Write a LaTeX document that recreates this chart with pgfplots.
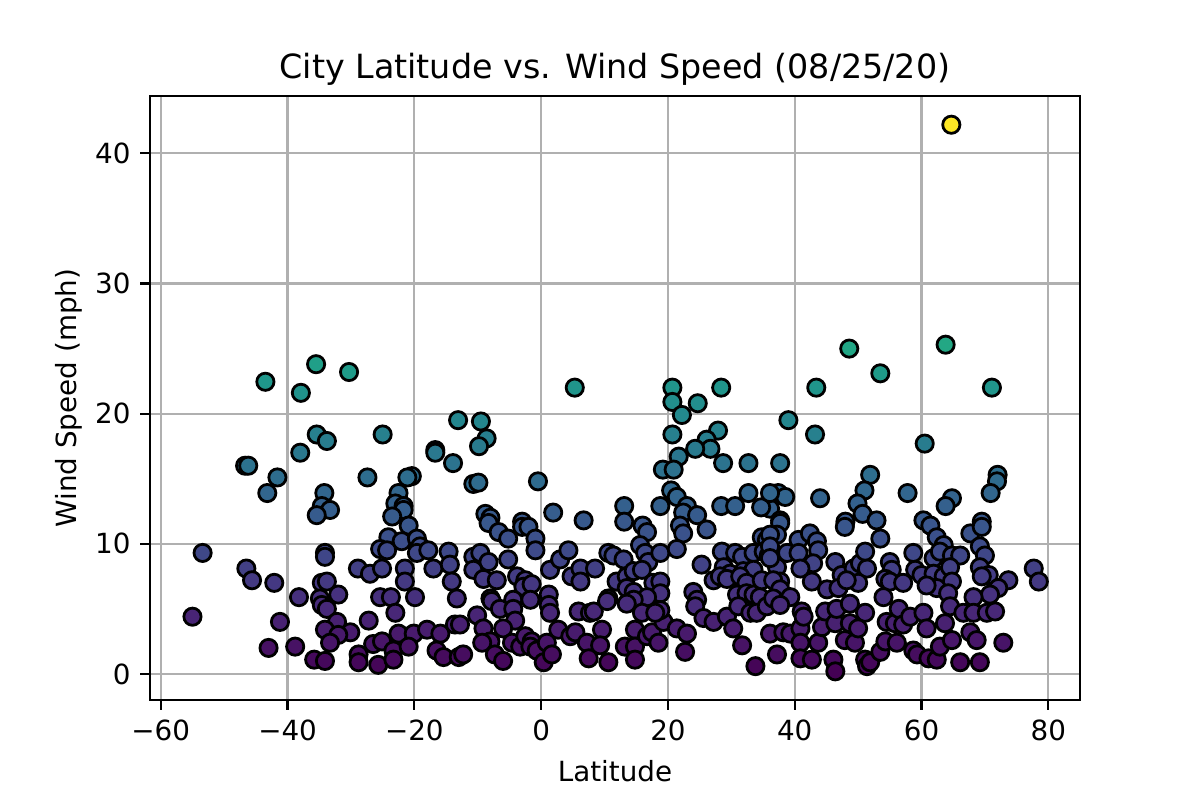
\documentclass[border=0pt]{standalone}
\usepackage{pgfplots}
\pgfplotsset{compat=1.18}
\usepackage{fontspec}
\setmainfont{DejaVu Sans}
\definecolor{gridgray}{HTML}{B0B0B0}
\begin{document}
\begin{tikzpicture}
\path[use as bounding box] (0,0) rectangle (432pt,288pt);
\begin{axis}[
  at={(54pt,36pt)}, anchor=south west,
  scale only axis, width=334.8pt, height=217.4pt,
  xmin=-61.7, xmax=85.0, ymin=-2.0, ymax=44.4,
  xtick={-60,-40,-20,0,20,40,60,80},
  xticklabels={−60,−40,−20,0,20,40,60,80},
  ytick={0,10,20,30,40},
  /pgf/number format/assume math mode=true,
  tick pos=left, tick align=outside,
  major tick length=3.5pt,
  every tick/.style={black, line width=0.8pt},
  axis line style={black, line width=0.8pt},
  grid=major,
  major grid style={gridgray, line width=0.8pt},
  tick label style={font=\fontsize{10}{12}\selectfont},
  label style={font=\fontsize{10}{12}\selectfont},
  title style={font=\fontsize{12}{14}\selectfont, at={(axis description cs:0.5,1)}, anchor=base, yshift=0.5pt},
  xlabel style={at={(axis description cs:0.5,0)}, anchor=base, yshift=-29.2pt},
  ylabel style={at={(axis description cs:0,0.5)}, anchor=base, yshift=26.3pt},
  title={City Latitude vs. Wind Speed (08/25/20)},
  xlabel={Latitude},
  ylabel={Wind Speed (mph)},
  colormap name=viridis,
  scatter/use mapped color={draw=black, fill=mapped color},
]
\addplot[scatter, only marks, scatter src=y, mark=*, mark size=3.1pt, mark options={line width=1pt}] coordinates {
(64.7,42.2)
(63.8,25.3)(48.6,25.0)(53.5,23.1)(71.1,22.0)(43.4,22.0)(28.4,22.0)(20.7,22.0)(20.7,20.9)(24.7,20.8)(22.2,19.9)(39.0,19.5)(43.2,18.4)(60.5,17.7)(37.7,16.2)(51.9,15.3)(72.0,15.3)(71.9,14.8)(70.9,13.9)(37.4,13.9)(38.5,13.6)(44.0,13.5)(51.0,14.1)(49.9,13.1)(50.7,12.3)(57.8,13.9)(64.8,13.5)(63.8,12.9)(36.1,12.7)(37.7,11.8)(60.3,11.8)(69.5,11.7)(48.0,11.7)(52.9,11.8)
(-43.5,22.45)(-35.5,23.8)(-30.3,23.2)(-37.9,21.6)(-13.1,19.5)(-35.4,18.4)(-33.8,17.9)(-25.0,18.4)(-38.0,17.0)(-16.7,17.2)(-16.7,17.0)(-13.9,16.2)(-46.7,16.0)(-46.2,16.0)(-41.6,15.1)(-43.2,13.9)(-27.4,15.1)(-20.4,15.2)(-21.1,15.1)(-22.5,13.9)(-23.0,13.1)(-21.7,12.9)(-21.7,12.6)(-34.2,13.9)(-34.6,12.9)(-33.3,12.6)(-35.4,12.2)(-23.5,12.1)
(-9.5,19.4)(-8.6,18.1)(-9.8,17.5)(-10.7,14.6)(-9.9,14.7)(5.3,22.0)(-0.5,14.8)(20.7,18.4)(27.9,18.7)(26.1,18.0)(26.7,17.3)(24.3,17.3)(21.7,16.7)(28.7,16.2)(32.7,16.2)(19.2,15.7)(20.9,15.7)(20.5,14.1)(21.4,13.6)(32.7,13.9)(18.8,12.9)(23.0,12.9)(22.4,12.4)(24.6,12.2)(28.4,12.9)(30.6,12.9)(34.7,12.8)(36.1,13.9)(13.1,12.9)(1.9,12.4)(6.7,11.8)(-8.8,12.3)(-8.0,12.0)(-3.0,11.7)
(-20.9,11.4)(-24.1,10.5)(-22.0,10.2)(-19.6,10.4)(-19.1,9.8)(-25.4,9.6)(-24.3,9.5)(-19.6,9.3)(-17.8,9.5)(-17.0,8.1)(-14.6,9.4)(-14.4,8.4)(-14.1,7.1)(-13.3,5.8)(-53.4,9.3)(-46.5,8.1)(-45.6,7.2)(-42.1,7.0)(-34.1,9.3)(-34.1,9.0)(-28.9,8.1)(-27.0,7.7)(-25.1,8.1)(-21.5,8.1)(-21.5,7.1)(-34.6,7.0)(-33.8,7.1)(-38.2,5.9)(-34.9,5.8)(-32.0,6.1)(-34.6,5.3)(-25.4,5.9)(-23.7,5.9)(-19.9,5.9)
(-55.0,4.4)(-41.2,4.0)(-43.0,2.0)(-38.8,2.1)(-33.8,5.0)(-32.2,4.0)(-34.1,3.4)(-30.1,3.2)(-32.0,3.0)(-33.3,2.4)(-35.8,1.1)(-34.1,1.0)(-27.2,4.1)(-23.0,4.7)(-28.8,1.5)(-28.8,0.9)(-25.7,0.7)(-26.5,2.3)(-25.1,2.5)(-22.5,3.1)(-20.1,3.1)(-23.3,1.8)(-23.3,1.1)(-20.9,2.1)(-18.0,3.4)(-15.9,3.1)(-16.5,1.8)(-15.4,1.3)(-13.6,3.8)(-13.0,1.3)
(-8.3,11.6)(-6.7,10.9)(-5.2,10.4)(-3.0,11.3)(-2.0,11.3)(-0.9,10.4)(-0.9,9.5)(13.1,11.7)(16.0,11.4)(16.7,10.9)(15.6,9.9)(16.4,9.3)(16.9,8.6)(18.8,9.3)(21.9,11.4)(22.4,10.8)(26.1,11.1)(21.4,9.6)(34.8,10.5)(35.6,10.3)(25.3,8.4)(28.5,9.4)(30.6,9.3)(31.7,9.0)(33.5,9.3)(35.1,9.4)(35.9,9.1)(28.8,8.2)(29.8,7.7)(31.9,7.9)(32.7,7.1)(33.5,8.0)
(-10.7,9.0)(-9.6,9.3)(-8.3,8.6)(-10.7,8.0)(-9.1,7.3)(-7.0,7.2)(-5.2,8.8)(-3.8,7.5)(-2.5,7.2)(-2.8,6.7)(-1.5,6.9)(-8.0,5.8)(-4.4,5.7)(-1.7,5.7)(1.4,8.0)(3.0,8.8)(4.3,9.5)(1.2,6.1)(4.8,7.5)(6.2,8.1)(6.2,7.1)(8.5,8.1)(10.6,9.3)(11.4,9.1)(13.0,8.8)(11.9,7.1)(13.5,7.5)(14.6,7.9)(15.9,8.0)(13.5,6.6)(14.6,6.3)(17.7,7.0)(18.8,7.1)(18.8,6.2)(16.7,5.9)(10.6,5.8)(14.6,5.7)(27.2,7.2)(28.2,7.5)(29.3,7.3)(31.4,7.5)(32.4,7.0)(30.9,6.1)(32.4,6.2)(33.5,6.1)(34.5,5.9)(34.8,7.2)(24.0,6.3)(24.6,5.7)
(-10.1,4.5)(-7.8,5.6)(-6.5,5.0)(-4.4,5.0)(-4.1,4.1)(-6.0,3.5)(-9.1,3.5)(-8.0,2.5)(-9.3,2.4)(-7.3,1.5)(-6.0,1.0)(-4.6,2.4)(-3.3,2.1)(-2.5,2.9)(-1.5,2.5)(-1.7,2.1)(-0.7,1.8)(-12.8,3.8)(-12.3,1.5)(0.4,0.9)(0.9,2.4)(1.7,1.5)(1.2,5.3)(1.4,4.7)(2.7,3.4)(4.6,2.9)(5.4,3.2)(5.9,4.8)(7.7,4.7)(8.3,4.8)(7.2,2.4)(9.6,3.4)(9.3,2.2)(7.5,1.2)(10.6,0.9)(10.4,5.6)(13.5,5.4)(14.8,3.4)(15.9,4.7)(13.2,2.1)(14.8,2.1)(14.8,1.1)(16.7,2.9)(17.5,3.2)(18.5,2.4)(19.3,4.0)(18.8,4.9)(18.0,4.7)(21.4,3.5)(23.0,3.1)(22.7,1.7)(24.3,5.2)(25.6,4.3)(27.2,4.0)(29.3,4.4)(30.3,3.5)(31.7,2.2)(31.1,5.2)(33.0,4.7)(34.0,4.7)(35.6,5.2)(36.1,3.1)(33.8,0.6)
(37.7,11.6)(37.2,10.7)(38.8,9.3)(37.2,8.2)(37.7,7.1)(40.6,10.3)(40.6,9.3)(42.4,10.8)(43.5,10.2)(43.7,9.5)(42.9,8.5)(40.9,8.1)(42.7,7.1)(45.1,6.5)(47.9,11.3)(53.5,10.4)(46.4,8.6)(47.4,7.6)(49.3,8.1)(50.3,8.5)(51.4,8.1)(51.1,9.4)(50.0,7.0)(46.9,6.6)(48.2,7.2)(55.0,8.6)(55.3,8.0)(54.3,7.3)(55.0,7.1)(57.1,7.0)(58.7,9.3)(59.0,8.0)(60.0,7.6)(54.0,5.9)(61.4,11.4)(62.4,10.5)(63.5,9.9)(61.9,8.9)(62.9,9.4)(64.8,9.1)(66.1,9.1)(61.9,7.7)(63.5,7.5)(64.5,8.2)(64.8,7.1)(62.4,6.6)(60.8,6.8)(64.2,6.2)(67.7,10.8)(69.5,11.3)(69.2,9.8)(70.0,9.1)(69.2,8.2)(70.6,7.6)(69.5,7.5)(73.7,7.2)(72.1,6.6)(70.8,6.1)(68.2,5.9)(77.7,8.1)(78.5,7.1)(36.1,10.7)(36.1,9.8)(36.1,8.9)(36.6,7.2)(37.7,6.5)(36.6,5.8)(39.3,5.9)
(37.7,5.3)(38.2,3.2)(37.2,1.5)(39.3,3.1)(41.1,4.8)(40.9,3.5)(40.9,2.4)(40.9,1.2)(42.7,1.1)(41.4,4.4)(43.7,2.4)(44.3,3.6)(44.8,4.8)(46.4,3.9)(46.6,5.0)(46.1,1.1)(46.4,0.2)(47.9,2.6)(48.7,3.9)(49.5,2.4)(48.7,5.4)(51.1,4.7)(50.0,3.5)(51.1,1.1)(51.4,0.6)(51.9,0.9)(53.5,1.7)(54.3,2.5)(54.5,4.0)(55.8,3.9)(56.1,2.4)(56.4,5.0)(57.1,3.8)(58.2,4.4)(58.7,1.8)(59.3,1.5)(60.3,4.7)(60.8,3.5)(61.1,1.2)(62.4,1.1)(62.9,2.1)(63.7,3.9)(64.5,5.2)(64.8,2.6)(66.1,0.9)(66.6,4.7)(67.7,3.2)(68.2,4.7)(68.7,2.6)(69.2,0.9)(70.3,4.7)(71.6,4.8)(72.9,2.4)
};
\end{axis}
\end{tikzpicture}
\end{document}
